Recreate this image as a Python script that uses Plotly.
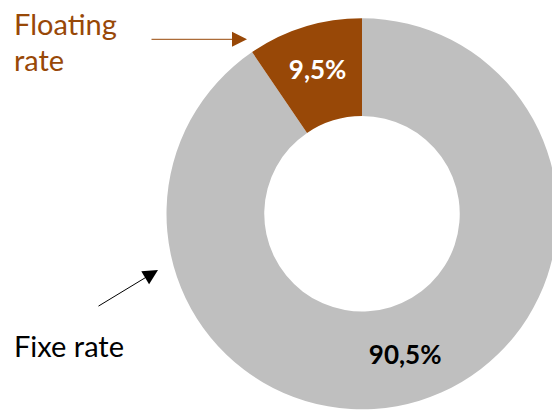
import plotly.graph_objects as go

# Interest-rate split of the debt (fixed slice first, so the floating
# slice falls just left of 12 o'clock when drawn counterclockwise)
labels = ["Fixe rate", "Floating rate"]
values = [90.5, 9.5]
slice_colors = ["#BFBFBF", "#984807"]
value_text_colors = ["black", "white"]

W, H = 560, 410
cx, cy, r = 362.0, 213.8, 195.5

fig = go.Figure()

fig.add_trace(go.Pie(
    labels=labels,
    values=values,
    hole=0.50,
    sort=False,
    direction="counterclockwise",
    rotation=0,
    marker=dict(colors=slice_colors, line=dict(width=0)),
    texttemplate="<b>%{value:.1f}%</b>",
    textposition="inside",
    insidetextorientation="horizontal",
    textfont=dict(family="Lato", size=26, color=value_text_colors),
    hoverinfo="none",
    showlegend=False,
    domain=dict(x=[(cx - r) / W, (cx + r) / W],
                y=[1 - (cy + r) / H, 1 - (cy - r) / H]),
))

# Invisible pixel-scaled axes for placing the callouts
fig.add_trace(go.Scatter(x=[0], y=[0], mode="markers",
                         marker=dict(opacity=0), hoverinfo="skip",
                         showlegend=False))

brown = "#984807"
label_font = dict(family="Lato", size=29)

fig.add_annotation(x=12, y=23, text="Floating", showarrow=False,
                   xanchor="left", yanchor="middle",
                   font=dict(color=brown, **label_font))
fig.add_annotation(x=12, y=59, text="rate", showarrow=False,
                   xanchor="left", yanchor="middle",
                   font=dict(color=brown, **label_font))
fig.add_annotation(x=12, y=345, text="Fixe rate", showarrow=False,
                   xanchor="left", yanchor="middle",
                   font=dict(color="black", **label_font))

# Pointer arrows
fig.add_annotation(x=247, y=39.3, ax=150, ay=39.3, axref="x", ayref="y",
                   text="", showarrow=True, arrowhead=2, arrowsize=3,
                   arrowwidth=1, arrowcolor=brown, standoff=0)
fig.add_annotation(x=158, y=270, ax=97, ay=307, axref="x", ayref="y",
                   text="", showarrow=True, arrowhead=2, arrowsize=3,
                   arrowwidth=1, arrowcolor="black", standoff=0)

fig.update_xaxes(range=[0, W], visible=False, fixedrange=True)
fig.update_yaxes(range=[H, 0], visible=False, fixedrange=True)

fig.update_layout(
    width=W, height=H,
    margin=dict(l=0, r=0, t=0, b=0),
    paper_bgcolor="white",
    plot_bgcolor="rgba(0,0,0,0)",
    separators=", ",
    xaxis=dict(domain=[0, 1]),
    yaxis=dict(domain=[0, 1]),
)

fig.write_html(
    "out.html",
    post_script="document.documentElement.style.overflow='hidden';"
                "document.body.style.overflow='hidden';"
                "document.body.style.margin='0';",
)
